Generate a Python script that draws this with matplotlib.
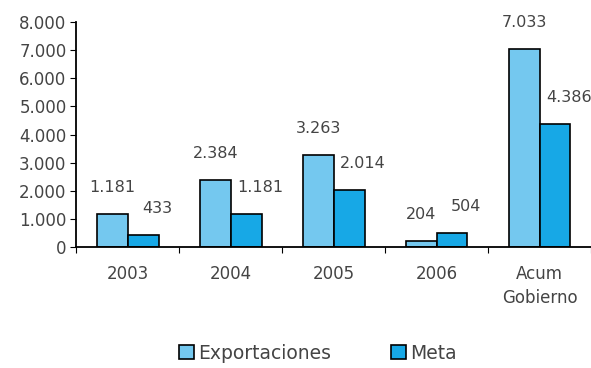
import numpy as np
import matplotlib
matplotlib.use("Agg")
import matplotlib.pyplot as plt

# data
categorias = ["2003", "2004", "2005", "2006", "Acum\nGobierno"]
exportaciones = [1181, 2384, 3263, 204, 7033]
meta = [433, 1181, 2014, 504, 4386]
yticks = [0, 1000, 2000, 3000, 4000, 5000, 6000, 7000, 8000]

def fmt(v):
    return "{:,}".format(v).replace(",", ".")

plt.rcParams['font.family'] = ['DejaVu Sans']
txt = '#444444'
fs = 12

fig = plt.figure(figsize=(5.91, 3.68), dpi=100)
ax = fig.add_axes([0.129, 0.329, 0.871, 0.611])

x = np.arange(len(categorias))
w = 0.3
b1 = ax.bar(x - w/2, exportaciones, w, color='#74C8EF', edgecolor='black', linewidth=1.2, label='Exportaciones')
b2 = ax.bar(x + w/2, meta, w, color='#17A8E6', edgecolor='black', linewidth=1.2, label='Meta')

for xi, v in zip(x, exportaciones):
    ax.annotate(fmt(v), (xi - w/2, v), xytext=(0, 19), textcoords='offset points',
                ha='center', va='center', fontsize=fs - 0.5, color=txt)
for xi, v in zip(x, meta):
    ax.annotate(fmt(v), (xi + w/2, v), xytext=(10, 19), textcoords='offset points',
                ha='center', va='center', fontsize=fs - 0.5, color=txt)

ax.set_xlim(-0.5, len(categorias) - 0.5)
ax.set_ylim(0, 8000)
ax.set_yticks(yticks)
ax.set_yticklabels([fmt(v) for v in yticks], fontsize=fs, color=txt)
ax.set_xticks(np.arange(len(categorias) + 1) - 0.5)
ax.set_xticklabels([])
ax.set_xticks(x, minor=True)
ax.set_xticklabels(categorias, minor=True, fontsize=fs, color=txt, linespacing=1.45, va='top')
ax.tick_params(axis='x', which='minor', length=0, pad=13)
ax.tick_params(axis='x', which='major', length=4, direction='out')
ax.tick_params(axis='y', length=4, direction='out', pad=3)

for s in ['top', 'right']:
    ax.spines[s].set_visible(False)
ax.spines['left'].set_linewidth(1.3)
ax.spines['bottom'].set_linewidth(1.3)

leg = fig.legend(handles=[b1, b2], loc='center', bbox_to_anchor=(0.538, 0.04), ncol=2,
                 frameon=False, fontsize=13.5, handlelength=0.8, handleheight=0.8,
                 handletextpad=0.2, columnspacing=3.2)
for t in leg.get_texts():
    t.set_color(txt)

fig.savefig("out.png", dpi=100)
